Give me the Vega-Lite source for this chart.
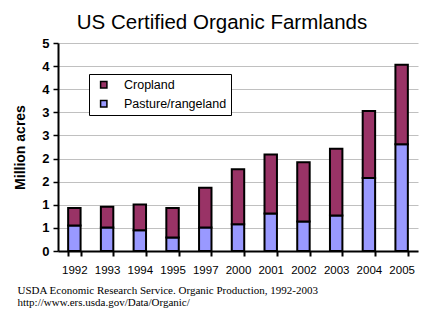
{
  "$schema": "https://vega.github.io/schema/vega-lite/v6.json",
  "autosize": "none",
  "width": 360,
  "height": 208,
  "padding": {"left": 58, "top": 43, "right": 6, "bottom": 71},
  "background": "white",
  "title": {
    "text": "US Certified Organic Farmlands",
    "font": "Liberation Sans",
    "fontSize": 20.5,
    "fontWeight": "normal",
    "color": "black",
    "anchor": "middle",
    "baseline": "alphabetic",
    "offset": -12,
    "dx": -16
  },
  "config": {
    "view": {"stroke": null},
    "axis": {"labelColor": "black", "titleColor": "black"}
  },
  "data": {
    "values": [
      {"year": "1992", "type": "Pasture/rangeland", "acres": 0.55},
      {"year": "1992", "type": "Cropland", "acres": 0.38},
      {"year": "1993", "type": "Pasture/rangeland", "acres": 0.51},
      {"year": "1993", "type": "Cropland", "acres": 0.445},
      {"year": "1994", "type": "Pasture/rangeland", "acres": 0.45},
      {"year": "1994", "type": "Cropland", "acres": 0.556},
      {"year": "1995", "type": "Pasture/rangeland", "acres": 0.29},
      {"year": "1995", "type": "Cropland", "acres": 0.64},
      {"year": "1997", "type": "Pasture/rangeland", "acres": 0.51},
      {"year": "1997", "type": "Cropland", "acres": 0.86},
      {"year": "2000", "type": "Pasture/rangeland", "acres": 0.58},
      {"year": "2000", "type": "Cropland", "acres": 1.19},
      {"year": "2001", "type": "Pasture/rangeland", "acres": 0.81},
      {"year": "2001", "type": "Cropland", "acres": 1.28},
      {"year": "2002", "type": "Pasture/rangeland", "acres": 0.64},
      {"year": "2002", "type": "Cropland", "acres": 1.28},
      {"year": "2003", "type": "Pasture/rangeland", "acres": 0.77},
      {"year": "2003", "type": "Cropland", "acres": 1.44},
      {"year": "2004", "type": "Pasture/rangeland", "acres": 1.58},
      {"year": "2004", "type": "Cropland", "acres": 1.45},
      {"year": "2005", "type": "Pasture/rangeland", "acres": 2.31},
      {"year": "2005", "type": "Cropland", "acres": 1.72}
    ]
  },
  "mark": {"type": "bar", "stroke": "black", "strokeWidth": 2},
  "encoding": {
    "x": {
      "field": "year",
      "type": "ordinal",
      "scale": {"paddingInner": 0.62, "paddingOuter": 0.31},
      "axis": {
        "labelAngle": 0,
        "labelFont": "Liberation Sans",
        "labelFontSize": 11.5,
        "labelPadding": 8,
        "domainColor": "black",
        "domainWidth": 2,
        "tickColor": "black",
        "tickWidth": 2,
        "tickSize": 5,
        "tickBand": "extent",
        "tickExtra": true,
        "title": ["USDA Economic Research Service. Organic Production, 1992-2003", "http://www.ers.usda.gov/Data/Organic/"],
        "titleFont": "Liberation Serif",
        "titleFontSize": 11,
        "titleFontWeight": "normal",
        "titleAlign": "left",
        "titleAnchor": "start",
        "titleBaseline": "alphabetic",
        "titleLineHeight": 12.7,
        "titleX": -41,
        "titleY": 42
      }
    },
    "y": {
      "field": "acres",
      "type": "quantitative",
      "stack": "zero",
      "scale": {"domain": [0, 4.5], "nice": false, "zero": true},
      "axis": {
        "values": [0, 0.5, 1, 1.5, 2, 2.5, 3, 3.5, 4, 4.5],
        "format": ".0f",
        "title": "Million acres",
        "titleFont": "Liberation Sans",
        "titleFontSize": 14,
        "titleFontWeight": "bold",
        "titlePadding": 14,
        "labelFont": "Liberation Sans",
        "labelFontSize": 13,
        "labelFontWeight": "bold",
        "labelPadding": 4,
        "domainColor": "black",
        "domainWidth": 2,
        "tickColor": "black",
        "tickWidth": 1.5,
        "tickSize": 5,
        "gridColor": "#c0c0c0",
        "gridWidth": 1
      }
    },
    "color": {
      "field": "type",
      "type": "nominal",
      "scale": {"domain": ["Cropland", "Pasture/rangeland"], "range": ["#993366", "#9999ff"]},
      "legend": {
        "title": null,
        "orient": "none",
        "legendX": 31,
        "legendY": 31,
        "fillColor": "white",
        "strokeColor": "black",
        "padding": 4.5,
        "symbolType": "square",
        "symbolSize": 40,
        "symbolStrokeColor": "black",
        "symbolStrokeWidth": 1.5,
        "symbolOffset": 4,
        "labelFont": "Liberation Sans",
        "labelFontSize": 12.5,
        "labelColor": "black",
        "labelOffset": 14,
        "rowPadding": 6
      }
    },
    "order": {"field": "type", "sort": "descending"}
  }
}
